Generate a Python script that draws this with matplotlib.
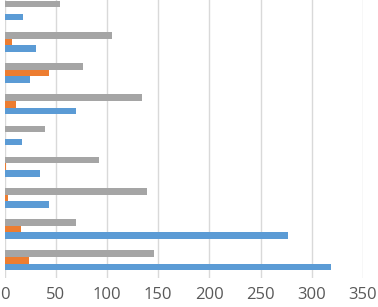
import numpy as np
import matplotlib
matplotlib.use('Agg')
import matplotlib.pyplot as plt

# groups listed bottom to top
blue = [319, 277, 43, 35, 17, 70, 25, 31, 18]
orange = [24, 16, 3, 1, 0, 11, 43, 7, 0]
gray = [146, 70, 139, 92, 40, 134, 77, 105, 54]
xticks = [0, 50, 100, 150, 200, 250, 300, 350]

plt.rcParams['font.family'] = ['Open Sans', 'DejaVu Sans']

fig = plt.figure(figsize=(3.78, 3.07), dpi=100)
ax = fig.add_axes([4.5/378, 29/307, (363-4.5)/378, 278/307])

y = np.arange(len(blue))
h = 0.21
ax.barh(y - h, blue, height=h, color='#5B9BD5', zorder=3)
ax.barh(y, orange, height=h, color='#ED7D31', zorder=3)
ax.barh(y + h, gray, height=h, color='#A5A5A5', zorder=3)

ax.set_xlim(0, 350)
ax.set_ylim(-0.567, 8.34)
ax.set_xticks(xticks)
ax.set_yticks([])
ax.grid(axis='x', color='#D9D9D9', linewidth=1, zorder=0)
for s in ax.spines.values():
    s.set_visible(False)
ax.tick_params(axis='x', length=0, pad=6.5, labelsize=12, labelcolor='#595959')

fig.savefig('out.png', dpi=100)
